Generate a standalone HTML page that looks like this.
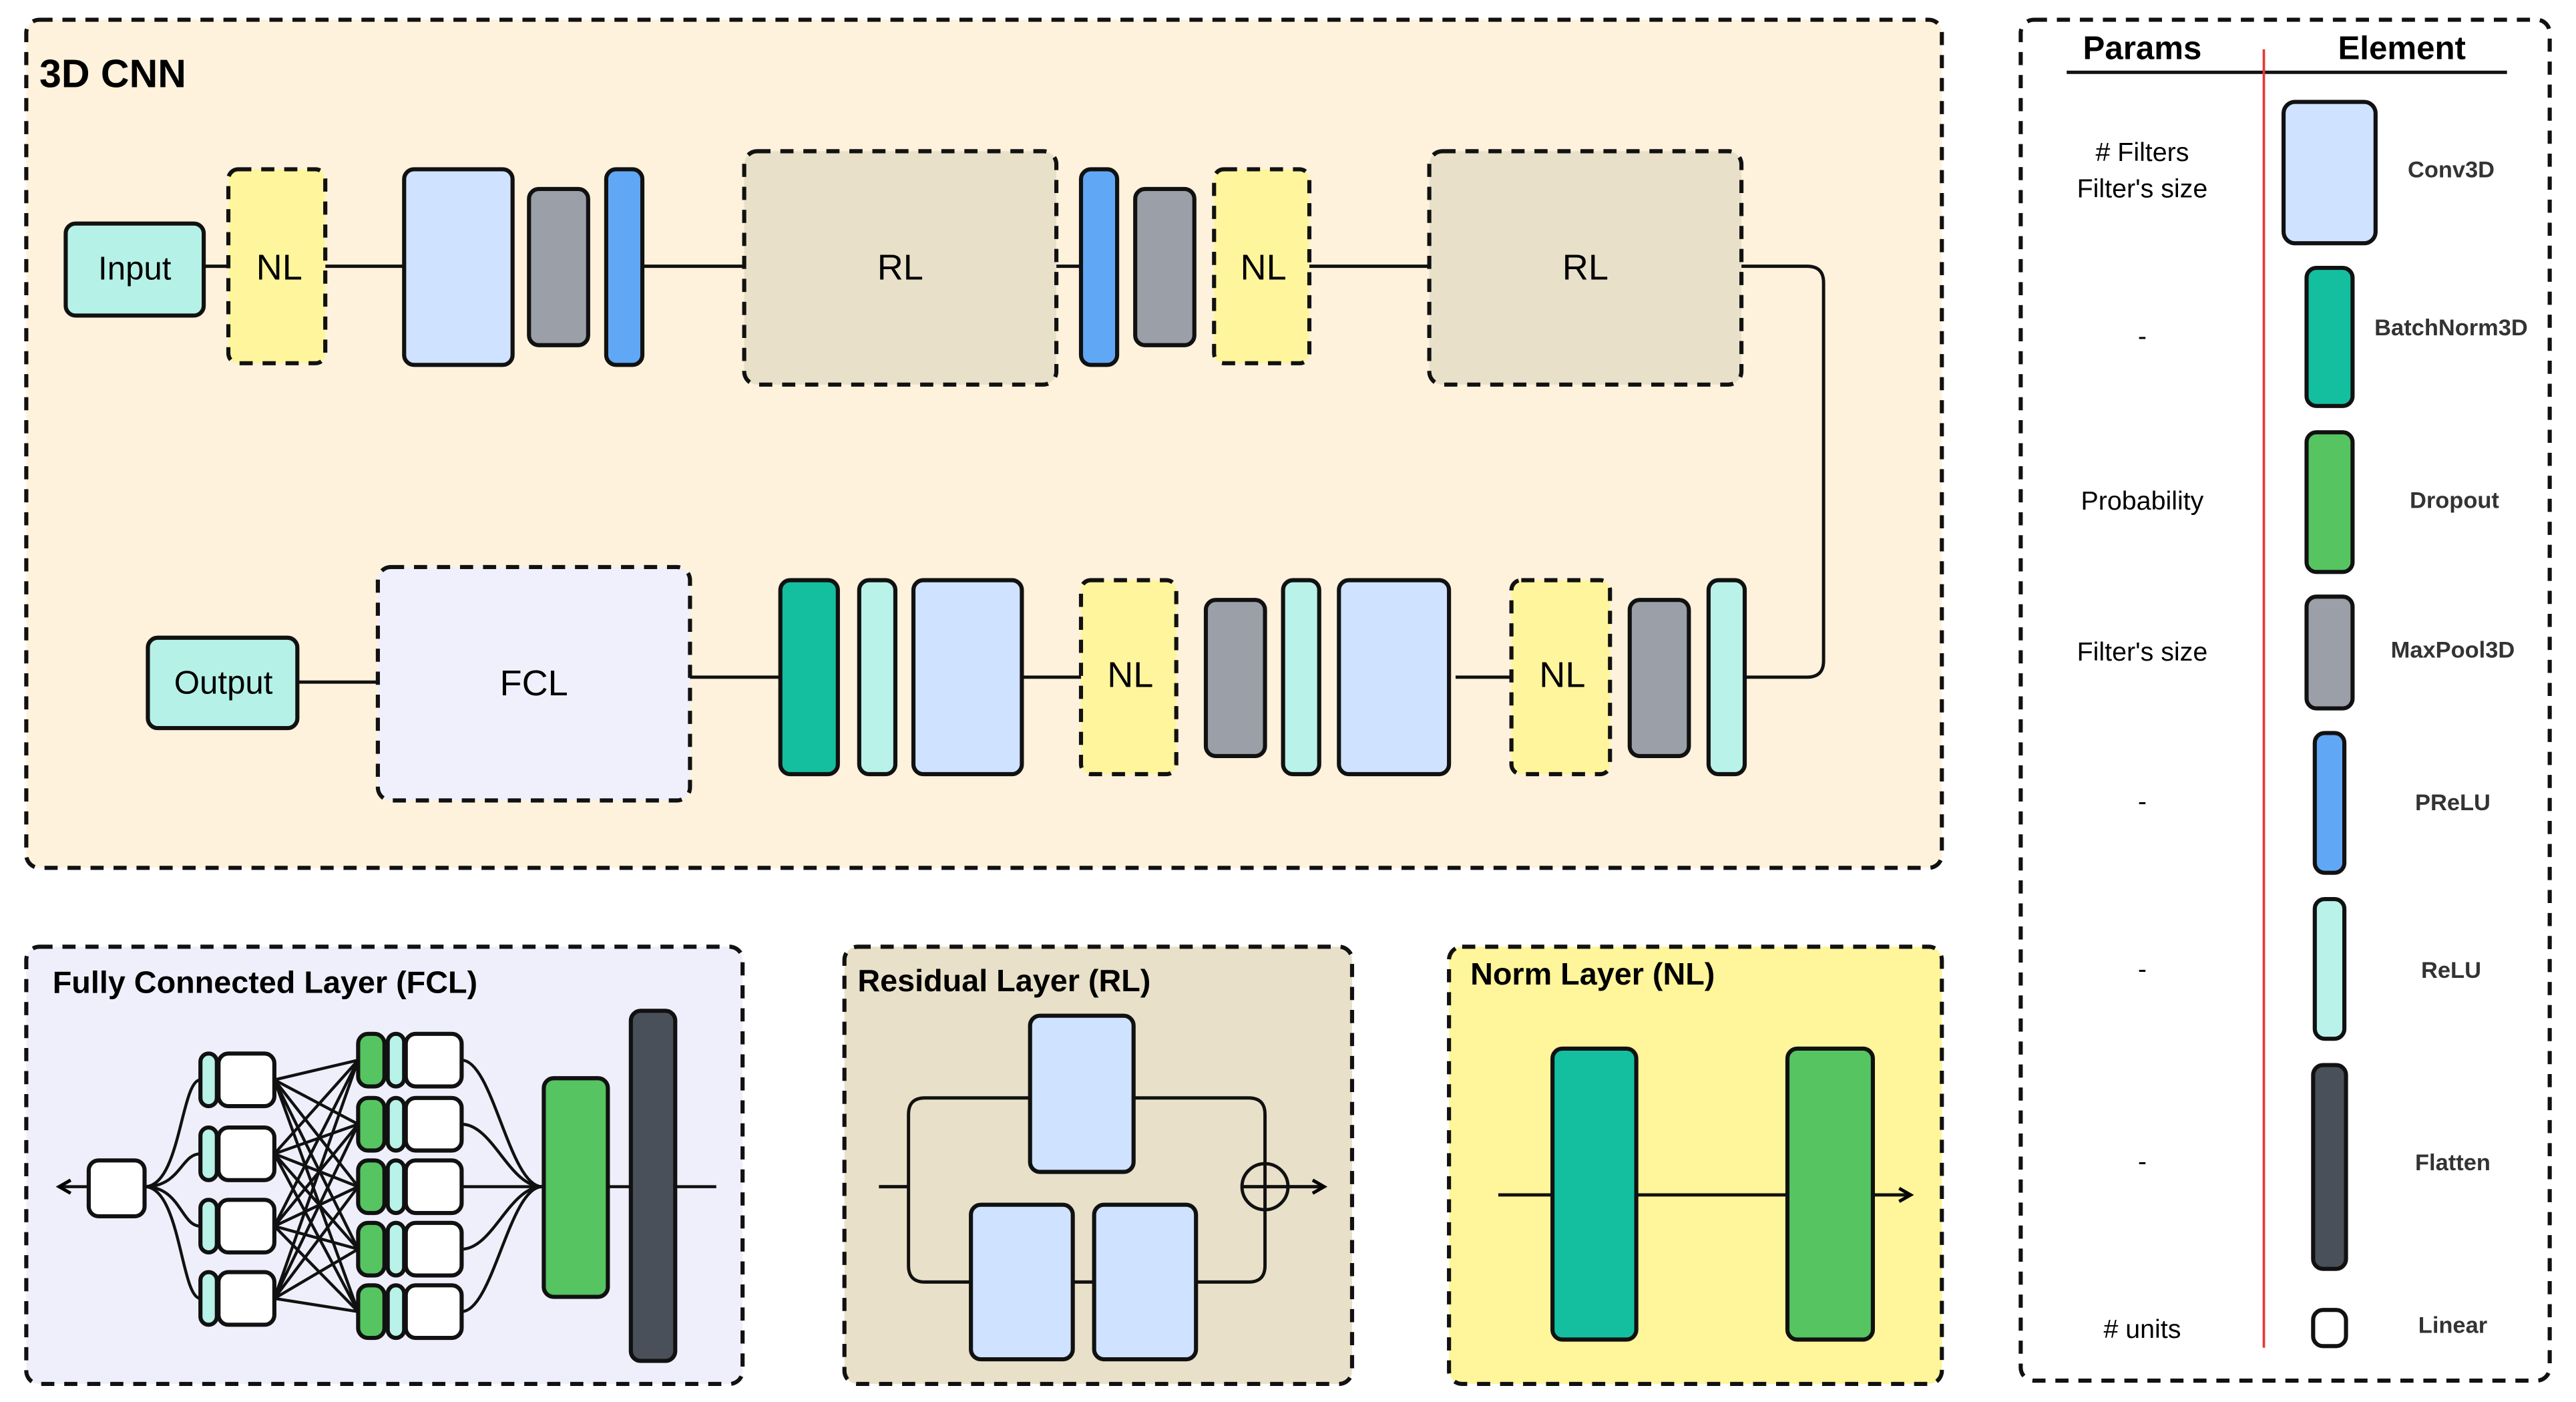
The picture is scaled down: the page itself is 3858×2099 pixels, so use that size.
<!DOCTYPE html>
<html><head><meta charset="utf-8"><style>
html,body{margin:0;padding:0;background:#fff;}
svg{display:block;}
text{font-family:"Liberation Sans",sans-serif;}
</style></head><body>
<svg width="3858" height="2099" viewBox="0 0 1568 853" preserveAspectRatio="none" xmlns="http://www.w3.org/2000/svg">
<defs>
<marker id="ar" markerWidth="10" markerHeight="10" refX="8" refY="5" orient="auto" markerUnits="userSpaceOnUse"><path d="M1,1 L8,5 L1,9" fill="none" stroke="#000" stroke-width="2"/></marker>
</defs>
<g stroke="#111" stroke-width="2.5">
<!-- main panel -->
<rect x="16" y="12" width="1166" height="516" rx="8" fill="#fef2dc" stroke-dasharray="8 6"/>
<!-- connectors top -->
<g fill="none" stroke-width="2">
<line x1="124" y1="162" x2="139" y2="162"/><line x1="198" y1="162" x2="246" y2="162"/>
<line x1="391" y1="162" x2="453" y2="162"/><line x1="643" y1="162" x2="658" y2="162"/>
<line x1="797" y1="162" x2="870" y2="162"/>
<path d="M1060,162 H1100 Q1110,162 1110,172 V402 Q1110,412 1100,412 H1062"/>
<line x1="886" y1="412" x2="920" y2="412"/><line x1="622" y1="412" x2="658" y2="412"/>
<line x1="420" y1="412" x2="475" y2="412"/><line x1="181" y1="415" x2="230" y2="415"/>
</g>
<rect x="40" y="136" width="84" height="56" rx="6" fill="#b5f1e7"/>
<rect x="139" y="103" width="59" height="118" rx="6" fill="#fff59d" stroke-dasharray="8 6"/>
<rect x="246" y="103" width="66" height="119" rx="6" fill="#cfe2ff"/>
<rect x="322" y="115" width="36" height="95" rx="6" fill="#9a9fa8"/>
<rect x="369" y="103" width="22" height="119" rx="6" fill="#60a8f5"/>
<rect x="453" y="92" width="190" height="142" rx="8" fill="#e8e0c8" stroke-dasharray="8 6"/>
<rect x="658" y="103" width="22" height="119" rx="6" fill="#60a8f5"/>
<rect x="691" y="115" width="36" height="95" rx="6" fill="#9a9fa8"/>
<rect x="739" y="103" width="58" height="118" rx="6" fill="#fff59d" stroke-dasharray="8 6"/>
<rect x="870" y="92" width="190" height="142" rx="8" fill="#e8e0c8" stroke-dasharray="8 6"/>
<rect x="1040" y="353" width="22" height="118" rx="6" fill="#b8f2e8"/>
<rect x="992" y="365" width="36" height="95" rx="6" fill="#9a9fa8"/>
<rect x="920" y="353" width="60" height="118" rx="6" fill="#fff59d" stroke-dasharray="8 6"/>
<rect x="815" y="353" width="67" height="118" rx="6" fill="#cfe2ff"/>
<rect x="781" y="353" width="22" height="118" rx="6" fill="#b8f2e8"/>
<rect x="734" y="365" width="36" height="95" rx="6" fill="#9a9fa8"/>
<rect x="658" y="353" width="58" height="118" rx="6" fill="#fff59d" stroke-dasharray="8 6"/>
<rect x="556" y="353" width="66" height="118" rx="6" fill="#cfe2ff"/>
<rect x="523" y="353" width="22" height="118" rx="6" fill="#b8f2e8"/>
<rect x="475" y="353" width="35" height="118" rx="6" fill="#14bfa0"/>
<rect x="230" y="345" width="190" height="142" rx="8" fill="#f0f0fc" stroke-dasharray="8 6"/>
<rect x="90" y="388" width="91" height="55" rx="6" fill="#b5f1e7"/>

<!-- legend -->
<rect x="1230" y="12" width="322" height="828" rx="8" fill="#fff" stroke-dasharray="8 6"/>
<line x1="1258" y1="44" x2="1526" y2="44" stroke-width="2"/>
<line x1="1378" y1="30" x2="1378" y2="820" stroke="#e53935" stroke-width="1.5"/>
<rect x="1390" y="62" width="56" height="86" rx="7" fill="#cfe2ff"/>
<rect x="1404" y="163" width="28" height="84" rx="6" fill="#14bfa0"/>
<rect x="1404" y="263" width="28" height="85" rx="6" fill="#55c461"/>
<rect x="1404" y="363" width="28" height="68" rx="6" fill="#9a9fa8"/>
<rect x="1409" y="446" width="18" height="85" rx="6" fill="#60a8f5"/>
<rect x="1409" y="547" width="18" height="85" rx="6" fill="#b8f2e8"/>
<rect x="1408" y="648" width="20" height="124" rx="6" fill="#4a5059"/>
<rect x="1408" y="797" width="20" height="22" rx="6" fill="#fff"/>

<!-- FCL panel -->
<rect x="16" y="576" width="436" height="266" rx="8" fill="#efeffb" stroke-dasharray="8 6"/>
<g fill="none" stroke-width="1.8">
<line x1="54" y1="722" x2="36" y2="722" marker-end="url(#ar)"/>
<path d="M88,722 C110,722 110,657 122,657"/><path d="M88,722 C110,722 110,702 122,702"/>
<path d="M88,722 C110,722 110,746 122,746"/><path d="M88,722 C110,722 110,790 122,790"/>
<g>
<path d="M167,657 L218,645 M167,657 L218,684 M167,657 L218,722 M167,657 L218,760 M167,657 L218,798"/>
<path d="M167,702 L218,645 M167,702 L218,684 M167,702 L218,722 M167,702 L218,760 M167,702 L218,798"/>
<path d="M167,746 L218,645 M167,746 L218,684 M167,746 L218,722 M167,746 L218,760 M167,746 L218,798"/>
<path d="M167,790 L218,645 M167,790 L218,684 M167,790 L218,722 M167,790 L218,760 M167,790 L218,798"/>
</g>
<path d="M281,645 C300,645 310,722 330,722"/><path d="M281,684 C300,684 310,722 330,722"/>
<path d="M281,722 L436,722"/><path d="M281,760 C300,760 310,722 330,722"/><path d="M281,798 C300,798 310,722 330,722"/>
</g>
<rect x="54" y="706" width="34" height="34" rx="6" fill="#fff"/>
<g>
<rect x="122" y="641" width="10" height="32" rx="5" fill="#b8f2e8"/><rect x="133" y="641" width="34" height="32" rx="6" fill="#fff"/>
<rect x="122" y="686" width="10" height="32" rx="5" fill="#b8f2e8"/><rect x="133" y="686" width="34" height="32" rx="6" fill="#fff"/>
<rect x="122" y="730" width="10" height="32" rx="5" fill="#b8f2e8"/><rect x="133" y="730" width="34" height="32" rx="6" fill="#fff"/>
<rect x="122" y="774" width="10" height="32" rx="5" fill="#b8f2e8"/><rect x="133" y="774" width="34" height="32" rx="6" fill="#fff"/>
</g>
<g>
<rect x="218" y="629" width="16" height="32" rx="6" fill="#55c461"/><rect x="236" y="629" width="10" height="32" rx="5" fill="#b8f2e8"/><rect x="247" y="629" width="34" height="32" rx="6" fill="#fff"/>
<rect x="218" y="668" width="16" height="32" rx="6" fill="#55c461"/><rect x="236" y="668" width="10" height="32" rx="5" fill="#b8f2e8"/><rect x="247" y="668" width="34" height="32" rx="6" fill="#fff"/>
<rect x="218" y="706" width="16" height="32" rx="6" fill="#55c461"/><rect x="236" y="706" width="10" height="32" rx="5" fill="#b8f2e8"/><rect x="247" y="706" width="34" height="32" rx="6" fill="#fff"/>
<rect x="218" y="744" width="16" height="32" rx="6" fill="#55c461"/><rect x="236" y="744" width="10" height="32" rx="5" fill="#b8f2e8"/><rect x="247" y="744" width="34" height="32" rx="6" fill="#fff"/>
<rect x="218" y="782" width="16" height="32" rx="6" fill="#55c461"/><rect x="236" y="782" width="10" height="32" rx="5" fill="#b8f2e8"/><rect x="247" y="782" width="34" height="32" rx="6" fill="#fff"/>
</g>
<rect x="331" y="656" width="39" height="133" rx="6" fill="#55c461"/>
<rect x="384" y="615" width="27" height="213" rx="6" fill="#4a5059"/>

<!-- RL panel -->
<rect x="514" y="576" width="309" height="266" rx="8" fill="#e8e0c8" stroke-dasharray="8 6"/>
<g fill="none" stroke-width="2">
<line x1="535" y1="722" x2="553" y2="722"/>
<path d="M627,668 H563 Q553,668 553,678 V770 Q553,780 563,780 H591"/>
<path d="M690,668 H760 Q770,668 770,678 V708"/>
<path d="M728,780 H760 Q770,780 770,770 V736"/>
<line x1="653" y1="780" x2="666" y2="780"/>
<line x1="784" y1="722" x2="806" y2="722" marker-end="url(#ar)"/>
<circle cx="770" cy="722" r="14"/>
<line x1="756" y1="722" x2="784" y2="722"/><line x1="770" y1="708" x2="770" y2="736"/>
</g>
<rect x="627" y="618" width="63" height="95" rx="6" fill="#cfe2ff"/>
<rect x="591" y="733" width="62" height="94" rx="6" fill="#cfe2ff"/>
<rect x="666" y="733" width="62" height="94" rx="6" fill="#cfe2ff"/>

<!-- NL panel -->
<rect x="882" y="576" width="300" height="266" rx="8" fill="#fff59a" stroke-dasharray="8 6"/>
<g fill="none" stroke-width="2">
<line x1="912" y1="727" x2="945" y2="727"/><line x1="996" y1="727" x2="1088" y2="727"/>
<line x1="1140" y1="727" x2="1163" y2="727" marker-end="url(#ar)"/>
</g>
<rect x="945" y="638" width="51" height="177" rx="6" fill="#14bfa0"/>
<rect x="1088" y="638" width="52" height="177" rx="6" fill="#55c461"/>
</g>

<!-- text -->
<g fill="#000">
<text x="24" y="53" font-size="24" font-weight="bold">3D CNN</text>
<text x="82" y="170" font-size="20" text-anchor="middle">Input</text>
<text x="170" y="170" font-size="22" text-anchor="middle">NL</text>
<text x="548" y="170" font-size="22" text-anchor="middle">RL</text>
<text x="769" y="170" font-size="22" text-anchor="middle">NL</text>
<text x="965" y="170" font-size="22" text-anchor="middle">RL</text>
<text x="951" y="418" font-size="22" text-anchor="middle">NL</text>
<text x="688" y="418" font-size="22" text-anchor="middle">NL</text>
<text x="325" y="423" font-size="22" text-anchor="middle">FCL</text>
<text x="136" y="422" font-size="20" text-anchor="middle">Output</text>
<text x="32" y="604" font-size="19" font-weight="bold">Fully Connected Layer (FCL)</text>
<text x="522" y="603" font-size="19" font-weight="bold">Residual Layer (RL)</text>
<text x="895" y="599" font-size="19" font-weight="bold">Norm Layer (NL)</text>
<text x="1304" y="36" font-size="20" font-weight="bold" text-anchor="middle">Params</text>
<text x="1462" y="36" font-size="20" font-weight="bold" text-anchor="middle">Element</text>
<g font-size="16" text-anchor="middle">
<text x="1304" y="98">#&#160;Filters</text><text x="1304" y="120">Filter's size</text>
<text x="1304" y="210">-</text>
<text x="1304" y="310">Probability</text>
<text x="1304" y="402">Filter's size</text>
<text x="1304" y="493">-</text>
<text x="1304" y="595">-</text>
<text x="1304" y="712">-</text>
<text x="1304" y="814"># units</text>
</g>
<g font-size="14" font-weight="bold" fill="#333" text-anchor="middle">
<text x="1492" y="108">Conv3D</text>
<text x="1492" y="204">BatchNorm3D</text>
<text x="1494" y="309">Dropout</text>
<text x="1493" y="400">MaxPool3D</text>
<text x="1493" y="493">PReLU</text>
<text x="1492" y="595">ReLU</text>
<text x="1493" y="712">Flatten</text>
<text x="1493" y="811">Linear</text>
</g>
</g>
</svg>
</body></html>
